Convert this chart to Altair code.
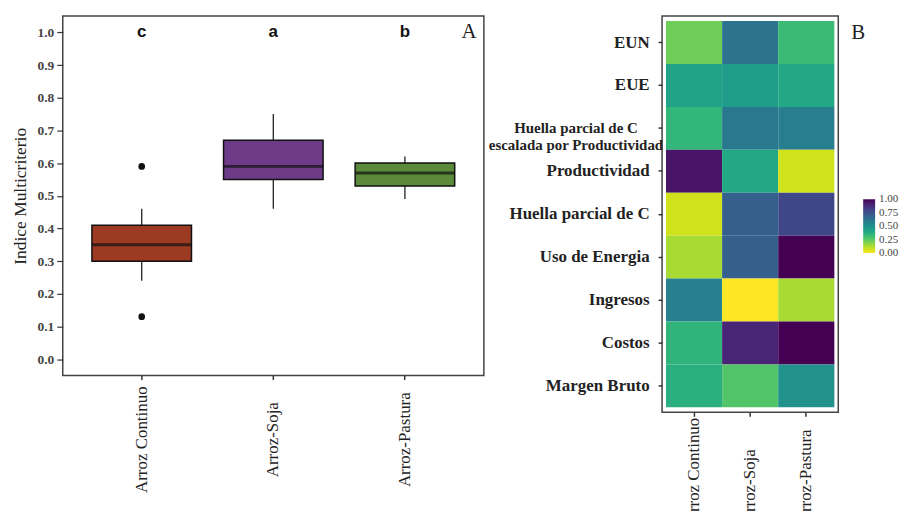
import altair as alt
import pandas as pd

# ---------------- data ----------------
systems = ["Arroz Continuo", "Arroz-Soja", "Arroz-Pastura"]
box_colors = ["#9c3a22", "#6e3b88", "#5b8a3a"]
q1 = [0.30, 0.55, 0.53]
median = [0.35, 0.59, 0.57]
q3 = [0.41, 0.67, 0.60]
whisker_low = [0.24, 0.46, 0.49]
whisker_high = [0.46, 0.75, 0.62]
outlier_system = ["Arroz Continuo", "Arroz Continuo"]
outlier_value = [0.59, 0.13]
letters = ["c", "a", "b"]
letter_pos = [1.0, 1.0, 1.0]
y_ticks = [0.0, 0.1, 0.2, 0.3, 0.4, 0.5, 0.6, 0.7, 0.8, 0.9, 1.0]

indicators = [
    "EUN",
    "EUE",
    "Huella parcial de C escalada por Productividad",
    "Productividad",
    "Huella parcial de C",
    "Uso de Energia",
    "Ingresos",
    "Costos",
    "Margen Bruto",
]
values_continuo = [0.22, 0.42, 0.34, 0.95, 0.07, 0.13, 0.57, 0.35, 0.37]
values_soja = [0.62, 0.45, 0.60, 0.40, 0.70, 0.70, 0.00, 0.90, 0.27]
values_pastura = [0.32, 0.40, 0.58, 0.07, 0.79, 1.00, 0.13, 1.00, 0.50]
legend_values = [0.001, 0.25, 0.5, 0.75, 0.999]
two_line = "Huella parcial de C escalada por Productividad"

SERIF = "Liberation Serif"
SANS = "Liberation Sans"

# ---------------- panel A ----------------
box_df = pd.DataFrame({
    "system": systems, "q1": q1, "median": median, "q3": q3,
    "lo": whisker_low, "hi": whisker_high, "letter": letters, "lpos": letter_pos,
})
out_df = pd.DataFrame({"system": outlier_system, "value": outlier_value})

x_a = alt.X(
    "system:N", sort=systems,
    scale=alt.Scale(paddingInner=0, paddingOuter=0.1),
    axis=alt.Axis(
        title=None, labelAngle=-90, labelAlign="center", labelBaseline="middle",
        labelPadding=60, domain=False, tickSize=4, tickWidth=1.5, tickColor="#333",
        labelFont=SERIF, labelFontSize=17, labelColor="#222",
    ),
)
y_scale = alt.Scale(domain=[-0.05, 1.05], nice=False, zero=False)
y_axis = alt.Axis(
    title="Indice Multicriterio", values=y_ticks, format=".1f", grid=False, domain=False,
    tickSize=6, tickWidth=1.2, tickColor="#333", labelPadding=3,
    labelFont=SERIF, labelFontSize=13.5, labelFontWeight="bold", labelColor="#444",
    titleFont=SERIF, titleFontSize=17.5, titleFontWeight="normal", titleColor="#222",
    titlePadding=8,
)
color_a = alt.Color("system:N", scale=alt.Scale(domain=systems, range=box_colors), legend=None)

base_a = alt.Chart(box_df)
whiskers = base_a.mark_rule(color="#222", strokeWidth=1.3).encode(
    x=x_a, y=alt.Y("lo:Q", scale=y_scale, axis=y_axis), y2="hi:Q")
boxes = base_a.mark_bar(size=100, stroke="#111", strokeWidth=1.5).encode(
    x=x_a, y=alt.Y("q1:Q", scale=y_scale, axis=y_axis), y2="q3:Q", color=color_a)
medians = base_a.mark_tick(size=100, thickness=3, color="#111").encode(
    x=x_a, y=alt.Y("median:Q", scale=y_scale, axis=y_axis))
outliers = alt.Chart(out_df).mark_circle(size=45, color="#111", opacity=1).encode(
    x=x_a, y=alt.Y("value:Q", scale=y_scale, axis=y_axis))
letter_marks = base_a.mark_text(font=SANS, fontSize=17, fontWeight="bold", color="#111",
                                baseline="middle").encode(
    x=x_a, y=alt.Y("lpos:Q", scale=y_scale, axis=y_axis), text="letter:N")
tag_a = alt.Chart(pd.DataFrame({"t": ["A"]})).mark_text(
    font=SERIF, fontSize=21, color="#222", align="center", baseline="middle").encode(
    x=alt.value(408), y=alt.value(16), text="t:N")

panel_a = alt.layer(whiskers, boxes, medians, outliers, letter_marks, tag_a).properties(
    width=423, height=361)

# ---------------- panel B ----------------
rows = []
for sysname, vals in zip(systems, [values_continuo, values_soja, values_pastura]):
    for ind, v in zip(indicators, vals):
        rows.append({"system": sysname, "indicator": ind, "value": v})
heat_df = pd.DataFrame(rows)

test = f"datum.value === '{two_line}'"
x_b = alt.X(
    "system:N", sort=systems,
    scale=alt.Scale(paddingInner=0, paddingOuter=0.07),
    axis=alt.Axis(
        title=None, labelAngle=-90, labelAlign="left", labelBaseline="middle",
        labelPadding=108, domain=False, tickSize=4, tickWidth=1.5, tickColor="#333",
        labelFont=SERIF, labelFontSize=17, labelColor="#222",
    ),
)
y_b = alt.Y(
    "indicator:N", sort=indicators,
    scale=alt.Scale(paddingInner=0, paddingOuter=0.116),
    axis=alt.Axis(
        title=None, domain=False, tickSize=4, tickWidth=1.5, tickColor="#333",
        labelFont=SERIF, labelFontWeight="bold", labelColor="#222", labelLimit=400,
        labelFontSize={"condition": {"test": test, "value": 15}, "value": 17},
        labelAlign={"condition": {"test": test, "value": "center"}, "value": "right"},
        labelPadding={"condition": {"test": test, "value": 83}, "value": 9},
        labelLineHeight=17,
        labelExpr=f"datum.value === '{two_line}' ? ['Huella parcial de C', 'escalada por Productividad'] : datum.label",
        minExtent=172, maxExtent=172,
    ),
)
heat = alt.Chart(heat_df).mark_rect().encode(
    x=x_b, y=y_b,
    color=alt.Color(
        "value:Q",
        scale=alt.Scale(scheme="viridis", reverse=True, domain=[0, 1]),
        legend=alt.Legend(
            orient="none", legendX=202, legendY=184, title=None,
            gradientLength=54, gradientThickness=12, gradientStrokeWidth=0,
            values=legend_values, format=".2f", labelFont=SERIF, labelFontSize=11,
            labelColor="#444", labelOffset=4, labelOverlap=False,
        ),
    ),
)
tag_b = alt.Chart(pd.DataFrame({"t": ["B"]})).mark_text(
    font=SERIF, fontSize=21, color="#222", align="center", baseline="middle").encode(
    x=alt.value(197), y=alt.value(17), text="t:N")

panel_b = alt.layer(heat, tag_b).properties(width=177, height=398)

chart = alt.hconcat(panel_a, panel_b, spacing=2).properties(
    padding={"left": 2, "top": 6, "right": 0, "bottom": -15}
).configure_view(
    stroke="#444", strokeWidth=1.5
).resolve_scale(color="independent")

chart.save("out.html", embed_options={"renderer": "svg", "actions": False})
